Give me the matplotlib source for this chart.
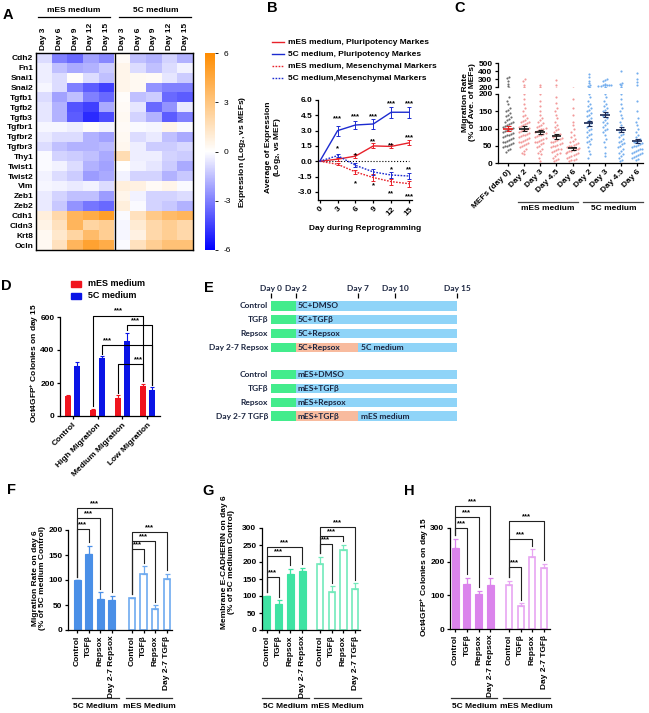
import numpy as np
import matplotlib
matplotlib.use("Agg")
import matplotlib.pyplot as plt
from matplotlib.colors import LinearSegmentedColormap
from matplotlib.lines import Line2D
from matplotlib.patches import Rectangle
import matplotlib.transforms as mtransforms

plt.rcParams["font.family"] = ["Liberation Sans", "DejaVu Sans"]
plt.rcParams["font.weight"] = "bold"
plt.rcParams["axes.labelweight"] = "bold"
plt.rcParams["font.size"] = 6
plt.rcParams["axes.linewidth"] = 0.9
plt.rcParams["axes.unicode_minus"] = False
plt.rcParams["xtick.major.width"] = 0.9
plt.rcParams["ytick.major.width"] = 0.9
plt.rcParams["xtick.major.size"] = 2.5
plt.rcParams["ytick.major.size"] = 2.5
plt.rcParams["xtick.major.pad"] = 1.5
plt.rcParams["ytick.major.pad"] = 1.5
plt.rcParams["mathtext.fontset"] = "custom"
plt.rcParams["mathtext.rm"] = "Liberation Sans:bold"
plt.rcParams["mathtext.bf"] = "Liberation Sans:bold"
plt.rcParams["mathtext.it"] = "Liberation Sans:bold"
plt.rcParams["mathtext.default"] = "bf"

# ======================= DATA =======================
# --- A: heatmap ---
genes = ["Cdh2", "Fn1", "Snai1", "Snai2", "Tgfb1", "Tgfb2", "Tgfb3", "Tgfbr1", "Tgfbr2", "Tgfbr3",
         "Thy1", "Twist1", "Twist2", "Vim", "Zeb1", "Zeb2", "Cdh1", "Cldn3", "Krt8", "Ocln"]
heat_days = ["Day 3", "Day 6", "Day 9", "Day 12", "Day 15"]
heat_mES = [
    [-0.8, -3.0, -3.5, -2.2, -2.8],
    [-0.4, -1.5, -2.0, -1.8, -1.2],
    [-0.4, -0.8, 0.1, -0.8, -1.5],
    [-0.2, -0.8, -3.0, -3.8, -4.5],
    [-0.8, -2.2, -1.5, -3.0, -3.5],
    [-0.6, -1.8, -4.0, -4.5, -2.0],
    [-0.6, -1.8, -3.8, -5.0, -4.2],
    [-0.2, -0.2, -0.4, 0.1, -0.3],
    [-0.5, -0.8, -0.8, -1.8, -2.2],
    [-0.8, -1.5, -1.8, -1.8, -1.6],
    [-0.1, -1.0, -1.2, -1.5, -2.0],
    [-0.1, -0.3, -0.8, -1.8, -2.2],
    [-0.3, -0.8, -1.2, -2.3, -2.0],
    [-0.2, -0.3, -0.5, -0.3, -0.8],
    [-0.5, -1.0, -1.5, -1.5, -2.3],
    [-0.5, -1.3, -2.5, -3.2, -3.5],
    [0.8, 2.0, 3.8, 4.3, 5.0],
    [0.6, 1.5, 3.8, 2.2, 2.5],
    [0.3, 1.2, 2.2, 3.5, 2.5],
    [0.3, 1.5, 3.8, 4.8, 4.3],
]
heat_5C = [
    [0.2, -1.5, -1.8, -1.0, -1.8],
    [0.5, -0.8, -1.5, -0.8, -0.3],
    [0.5, 0.3, 0.2, -0.6, -1.2],
    [0.5, 0.3, -2.5, -3.0, -3.0],
    [0.1, -1.5, -1.2, -3.5, -3.8],
    [0.2, -0.6, -3.5, -2.5, -0.5],
    [0.3, -1.0, -1.8, -3.8, -3.0],
    [0.2, -0.1, -0.2, 0.5, -0.1],
    [0.3, -0.8, -0.5, -1.5, -2.0],
    [0.4, -0.4, -1.2, -1.2, -0.9],
    [1.8, -0.4, -0.4, -1.0, -1.2],
    [0.0, -0.3, -0.6, -1.2, -2.0],
    [-0.3, -1.0, -1.0, -1.8, -1.3],
    [0.8, 0.7, 0.2, 0.5, -0.1],
    [0.5, -0.3, -1.0, -1.0, -0.8],
    [0.8, -0.1, -1.0, -1.3, -1.8],
    [-0.1, 1.5, 2.8, 3.5, 3.8],
    [-0.2, 1.0, 2.0, 2.5, 2.0],
    [-0.2, 0.7, 2.0, 2.5, 2.0],
    [-0.1, 1.5, 2.5, 3.2, 3.2],
]
cbar_ticks = [-6, -3, 0, 3, 6]

# --- B: time course ---
days_B = [0, 3, 6, 9, 12, 15]
mes_pluri = [0, 0.2, 0.5, 1.5, 1.45, 1.8]
mes_pluri_err = [0, 0.15, 0.2, 0.25, 0.2, 0.25]
c5_pluri = [0, 3.0, 3.55, 3.65, 4.8, 4.8]
c5_pluri_err = [0, 0.5, 0.35, 0.45, 0.55, 0.55]
mes_mesen = [0, -0.3, -1.05, -1.6, -2.0, -2.2]
mes_mesen_err = [0, 0.1, 0.2, 0.3, 0.3, 0.3]
c5_mesen = [0, 0.55, -0.4, -1.05, -1.35, -1.45]
c5_mesen_err = [0, 0.15, 0.2, 0.3, 0.3, 0.25]
legend_B = ["mES medium, Pluripotency Markes", "5C medium, Pluripotency Markes",
            "mES medium, Mesenchymal Markers", "5C medium,Mesenchymal Markers"]
starsB_x = [3, 6, 9, 12, 15, 3, 6, 9, 12, 15, 12, 15, 6, 9, 12, 15]
starsB_y = [4.3, 4.5, 4.5, 5.8, 5.75, 1.4, 0.7, 2.1, 1.7, 2.45, -0.65, -0.7, -2.1, -2.3, -3.0, -3.3]
starsB_t = ["***", "***", "***", "***", "***", "*", "*", "**", "**", "***", "*", "**", "*", "*", "**", "***"]

# --- C: migration swarm ---
catsC = ["MEFs (day 0)", "Day 2", "Day 3", "Day 4.5", "Day 6", "Day 2", "Day 3", "Day 4.5", "Day 6"]
valsC = [
    [32, 38, 42, 45, 48, 50, 52, 55, 58, 60, 62, 65, 68, 70, 72, 75, 78, 80, 82, 85, 88, 90, 92, 95, 98, 100,
     102, 105, 108, 110, 112, 115, 118, 120, 125, 128, 132, 135, 140, 145, 150, 155, 160, 170, 180, 190,
     210, 240, 280, 310, 330],
    [25, 30, 35, 40, 45, 48, 52, 55, 58, 60, 62, 65, 68, 70, 72, 75, 78, 80, 82, 85, 88, 90, 92, 95, 98, 100,
     102, 105, 108, 110, 112, 115, 118, 120, 122, 125, 130, 135, 140, 150, 160, 170, 185, 200, 230, 270, 300],
    [5, 15, 25, 30, 35, 40, 45, 50, 55, 58, 60, 62, 65, 68, 70, 72, 75, 78, 80, 82, 85, 88, 90, 92, 95, 98,
     100, 102, 105, 108, 110, 115, 120, 125, 130, 140, 150, 165, 180, 200, 230],
    [5, 8, 12, 15, 20, 25, 28, 32, 35, 38, 40, 42, 45, 48, 50, 52, 55, 58, 60, 62, 65, 68, 70, 72, 75, 78,
     80, 85, 90, 95, 100, 105, 110, 120, 130, 140, 150, 160, 175, 190, 220, 290],
    [5, 8, 10, 12, 15, 18, 20, 22, 25, 28, 30, 32, 34, 36, 38, 40, 42, 44, 46, 48, 50, 52, 55, 58, 60, 65,
     70, 75, 80, 90, 100, 110, 120, 140, 160, 185],
    [15, 25, 35, 45, 55, 60, 65, 70, 75, 80, 85, 90, 95, 100, 105, 110, 115, 120, 125, 130, 135, 140, 145,
     150, 155, 160, 165, 170, 180, 190, 200, 210, 230, 250, 280, 320, 360],
    [20, 30, 45, 60, 70, 80, 90, 95, 100, 105, 110, 115, 120, 125, 130, 135, 140, 145, 150, 155, 160, 165,
     170, 180, 190, 200, 215, 218, 220, 222, 225, 228, 230, 235, 280, 290, 300],
    [5, 10, 15, 20, 25, 30, 35, 40, 45, 50, 55, 58, 60, 65, 70, 75, 80, 85, 90, 95, 100, 110, 120, 130, 140,
     150, 160, 170, 185, 200, 220, 240, 250, 400],
    [10, 12, 15, 18, 20, 22, 25, 28, 30, 32, 35, 38, 40, 42, 45, 48, 50, 52, 55, 58, 60, 62, 65, 70, 75, 80,
     90, 100, 110, 120, 130, 150, 180, 220, 260, 300, 370],
]
meansC = [100, 100, 90, 77, 43, 115, 140, 97, 65]
semC = [8, 6, 5, 6, 4, 8, 8, 8, 6]

# --- D: bars ---
catsD = ["Control", "High Migration", "Medium Migration", "Low Migration"]
D_mes = [120, 35, 110, 180]
D_mes_err = [10, 8, 15, 15]
D_5c = [305, 350, 455, 155]
D_5c_err = [20, 12, 50, 20]
# (left group, left series, right group, right series, height, text x)
D_brackets = [(1, 0, 3, 0, 609, 1.82), (2, 1, 3, 1, 549, 2.5), (1, 1, 3, 1, 430, 1.38), (2, 0, 3, 0, 316, 2.62)]

# --- E: schematic ---
E_days = [0, 2, 7, 10, 15]
E_daylabels = ["Day 0", "Day 2", "Day 7", "Day 10", "Day 15"]
E_rows_5C = ["Control", "TGFβ", "Repsox", "Day 2-7 Repsox"]
E_text_5C = ["5C+DMSO", "5C+TGFβ", "5C+Repsox", "5C+Repsox"]
E_rows_mES = ["Control", "TGFβ", "Repsox", "Day 2-7 TGFβ"]
E_text_mES = ["mES+DMSO", "mES+TGFβ", "mES+Repsox", "mES+TGFβ"]
E_pulse = [False, False, False, True]
E_after = ["5C medium", "mES medium"]

# --- F, G, H ---
labels_5C = ["Control", "TGFβ", "Repsox", "Day 2-7 Repsox"]
labels_mES = ["Control", "TGFβ", "Repsox", "Day 2-7 TGFβ"]
F_5c, F_5c_err = [100, 152, 63, 61], [0, 17, 13, 8]
F_mes, F_mes_err = [65, 112, 42, 102], [0, 16, 8, 11]
F_br5, F_brm = [(1, 202), (2, 224), (3, 244)], [(1, 162), (2, 178), (3, 196)]
G_5c, G_5c_err = [100, 77, 165, 173], [0, 11, 15, 10]
G_mes, G_mes_err = [195, 113, 235, 122], [20, 15, 16, 15]
G_br5, G_brm = [(1, 156), (2, 218), (3, 244)], [(1, 253), (2, 277), (3, 303)]
H_5c, H_5c_err = [240, 135, 103, 130], [28, 17, 10, 22]
H_mes, H_mes_err = [130, 68, 213, 181], [14, 8, 24, 12]
H_br5, H_brm = [(1, 300), (2, 333), (3, 366)], [(1, 184), (2, 267), (3, 321)]

# ======================= FIGURE =======================
W, H = 649, 713
fig = plt.figure(figsize=(W / 100, H / 100), dpi=100)
fig.patch.set_facecolor("white")
px = mtransforms.Affine2D().scale(1.0 / W, -1.0 / H).translate(0, 1) + fig.transFigure


def rect(l, t, r, b):
    return [l / W, 1 - b / H, (r - l) / W, (b - t) / H]


def ptext(x, y, s, **kw):
    kw.setdefault("ha", "center")
    kw.setdefault("va", "center")
    fig.text(x, y, s, transform=px, **kw)


def pline(xs, ys, **kw):
    kw.setdefault("color", "black")
    kw.setdefault("lw", 0.9)
    fig.add_artist(Line2D(xs, ys, transform=px, **kw))


def style_axes(ax):
    ax.spines["top"].set_visible(False)
    ax.spines["right"].set_visible(False)


# panel letters
for let, x, y in [("A", 8, 15), ("B", 272, 8), ("C", 460, 8), ("D", 6, 286),
                  ("E", 209, 288), ("F", 11, 490), ("G", 208, 491), ("H", 409, 491)]:
    ptext(x, y, let, fontsize=10.5, fontweight="bold")

# ---------------- A ----------------
cmap = LinearSegmentedColormap.from_list("bo", [(0, 0, 1), (1, 1, 1), (1, 0.55, 0)])
axA = fig.add_axes(rect(36, 53, 193, 250))
heat = np.hstack([np.array(heat_mES), np.array(heat_5C)])
im = axA.imshow(heat, cmap=cmap, vmin=-6, vmax=6, aspect="auto", interpolation="nearest")
axA.set_yticks(range(len(genes)))
axA.set_yticklabels(genes)
axA.set_xticks(range(heat.shape[1]))
axA.set_xticklabels(heat_days + heat_days, rotation=90)
axA.xaxis.set_ticks_position("top")
axA.tick_params(length=0, pad=2)
axA.axvline(len(heat_days) - 0.5, color="black", lw=1.0)
for s in axA.spines.values():
    s.set_linewidth(1.0)
bt = mtransforms.blended_transform_factory(axA.transData, px)
for x0, x1, lab in [(-0.4, 4.2, "mES medium"), (4.8, 9.4, "5C medium")]:
    fig.add_artist(Line2D([x0, x1], [17, 17], transform=bt, color="black", lw=0.9))
    fig.text((x0 + x1) / 2, 11, lab, transform=bt, ha="center", va="center")

cax = fig.add_axes(rect(205, 53, 215, 250))
cb = fig.colorbar(im, cax=cax, ticks=cbar_ticks)
cb.outline.set_visible(False)
cax.tick_params(length=2, width=0.6, labelsize=6, pad=4)
for t in cax.get_yticklabels():
    t.set_fontweight("normal")
ptext(242, 152, "Expression (Log$_2$, vs MEFs)", rotation=90)

# ---------------- B ----------------
red, blue = "#e8212a", "#1c2bd0"
axB = fig.add_axes(rect(318, 100, 412, 200))
style_axes(axB)
axB.hlines(0, days_B[0], days_B[-1], colors="black", linestyles=":", lw=0.8)
seriesB = [(mes_pluri, mes_pluri_err, red, "-"), (c5_pluri, c5_pluri_err, blue, "-"),
           (mes_mesen, mes_mesen_err, red, (0, (1.2, 1.0))), (c5_mesen, c5_mesen_err, blue, (0, (1.2, 1.0)))]
for yv, ev, c, ls in seriesB:
    axB.errorbar(days_B, yv, yerr=ev, color=c, ls=ls, lw=1.0, capsize=1.5, elinewidth=0.7, capthick=0.7)
for x, y, t in zip(starsB_x, starsB_y, starsB_t):
    axB.text(x, y - 0.15, t, ha="center", va="center", fontsize=5.5)
axB.set_xlim(-0.3, 15.5)
axB.set_ylim(-3.8, 6.0)
axB.set_xticks(days_B)
axB.set_xticklabels([str(d) for d in days_B], rotation=45, ha="right", rotation_mode="anchor")
axB.set_yticks([-3, -1.5, 0, 1.5, 3, 4.5, 6])
axB.set_yticklabels(["%.1f" % v for v in [-3, -1.5, 0, 1.5, 3, 4.5, 6]])
ptext(274, 147, "Average of Expression\n(Log$_2$, vs MEF)", rotation=90, linespacing=1.1)
ptext(365, 228, "Day during Reprogramming")
leg_y = [42, 54, 66, 78]
for (yv, ev, c, ls), lab, ly in zip(seriesB, legend_B, leg_y):
    pline([272, 284], [ly, ly], color=c, ls=ls, lw=1.0)
    ptext(288, ly, lab, ha="left")

# ---------------- C ----------------
def swarm(vals, split=200.0, bw_lo=15.0, bw_hi=35.0, step=0.13, maxw=0.42):
    v = np.asarray(vals, float)
    key = np.where(v <= split, np.floor(v / bw_lo), 1000 + np.floor((v - split) / bw_hi))
    off = np.zeros_like(v)
    for k in np.unique(key):
        idx = np.where(key == k)[0]
        n = len(idx)
        off[idx] = (np.arange(n) - (n - 1) / 2.0) * step
    return np.clip(off, -maxw, maxw)


ptcol = ["#6d6d6d"] + ["#f29a9a"] * 4 + ["#74aeee"] * 4
mcol = ["#e02424"] + ["#1a1a1a"] * 4 + ["#1d2b55"] * 4
axCl = fig.add_axes(rect(498, 94, 643, 163))
axCu = fig.add_axes(rect(498, 63, 643, 87))
for ax in (axCl, axCu):
    style_axes(ax)
    ax.set_xlim(-0.62, 8.37)
axCu.spines["bottom"].set_visible(False)
axCu.set_xticks([])
for i, vals in enumerate(valsC):
    off = swarm(vals)
    for ax in (axCl, axCu):
        ax.scatter(i + off, vals, s=2.4, c=ptcol[i], lw=0, zorder=2)
    axCl.hlines(meansC[i], i - 0.3, i + 0.3, colors=mcol[i], lw=1.2, zorder=3)
    axCl.errorbar(i, meansC[i], yerr=semC[i], fmt="none", ecolor=mcol[i], capsize=1.8,
                  elinewidth=0.8, capthick=0.8, zorder=3)
axCl.set_ylim(0, 200)
axCl.set_yticks([0, 50, 100, 150, 200])
axCu.set_ylim(200, 500)
axCu.set_yticks([200, 300, 400, 500])
axCl.set_xticks(range(len(catsC)))
axCl.set_xticklabels(catsC, rotation=45, ha="right", rotation_mode="anchor")
ptext(469, 102, "Migration Rate\n(% of Ave. of MEFs)", rotation=90, linespacing=1.1)
btC = mtransforms.blended_transform_factory(axCl.transData, px)
for x0, x1, lab in [(0.62, 4.35, "mES medium"), (4.66, 8.4, "5C medium")]:
    fig.add_artist(Line2D([x0, x1], [202, 202], transform=btC, color="#444444", lw=0.9))
    fig.text((x0 + x1) / 2, 209, lab, transform=btC, ha="center", va="center")

# ---------------- D ----------------
axD = fig.add_axes(rect(60, 317, 160, 416))
style_axes(axD)
gx = np.arange(len(catsD))
offD = 0.19
wD = 0.24
red_d, blue_d = "#f0141e", "#0a14e6"
axD.bar(gx - offD, D_mes, width=wD, color=red_d)
axD.bar(gx + offD, D_5c, width=wD, color=blue_d)
axD.errorbar(gx - offD, D_mes, yerr=[np.zeros(4), D_mes_err], fmt="none", ecolor=red_d, capsize=1.5,
             elinewidth=0.8, capthick=0.8)
axD.errorbar(gx + offD, D_5c, yerr=[np.zeros(4), D_5c_err], fmt="none", ecolor=blue_d, capsize=1.5,
             elinewidth=0.8, capthick=0.8)
sD = [np.array(D_mes) + np.array(D_mes_err), np.array(D_5c) + np.array(D_5c_err)]
for g0, s0, g1, s1, yb, tx in D_brackets:
    x0 = g0 + (offD if s0 else -offD)
    x1 = g1 + (offD if s1 else -offD)
    y0 = min(sD[s0][g0] + 15, yb)
    y1 = min(sD[s1][g1] + 15, yb)
    axD.plot([x0, x0, x1, x1], [y0, yb, yb, y1], color="black", lw=0.8, clip_on=False)
    axD.text(tx, yb + 6, "***", ha="center", va="bottom", fontsize=5.5)
axD.set_xlim(-0.5, 3.5)
axD.set_ylim(0, 600)
axD.set_yticks([0, 200, 400, 600])
axD.set_xticks(gx)
axD.set_xticklabels(catsD, rotation=45, ha="right", rotation_mode="anchor")
ptext(35, 363, "Oct4GFP$^{+}$ Colonies on day 15", rotation=90)
fig.add_artist(Rectangle((71, 281), 10, 6, transform=px, color=red_d))
fig.add_artist(Rectangle((71, 293), 10, 6, transform=px, color=blue_d))
ptext(88, 284, "mES medium", ha="left", fontsize=6.5)
ptext(88, 296, "5C medium", ha="left", fontsize=6.5)

# ---------------- E ----------------
green, skyblue, salmon = "#43ec8c", "#8fd4f8", "#f8bb9e"
ecol = "#1b2540"
efam = ["Lato", "DejaVu Sans"]
axE = fig.add_axes(rect(271, 298, 457, 421))
for s in axE.spines.values():
    s.set_visible(False)
rowsE = [0, 1, 2, 3, 5, 6, 7, 8]
rowlabels = E_rows_5C + E_rows_mES
rowtexts = E_text_5C + E_text_mES
pulses = E_pulse + E_pulse
afters = [E_after[0]] * 4 + [E_after[1]] * 4
hE = 0.68
for r, lab, txt, pul, aft in zip(rowsE, rowlabels, rowtexts, pulses, afters):
    axE.barh(r, E_days[1] - E_days[0], left=E_days[0], height=hE, color=green)
    if pul:
        axE.barh(r, E_days[2] - E_days[1], left=E_days[1], height=hE, color=salmon)
        axE.barh(r, E_days[-1] - E_days[2], left=E_days[2], height=hE, color=skyblue)
        axE.text(E_days[2] + 0.25, r, aft, ha="left", va="center", fontsize=6, color=ecol, family=efam,
                 fontweight="bold")
    else:
        axE.barh(r, E_days[-1] - E_days[1], left=E_days[1], height=hE, color=skyblue)
    axE.text(E_days[1] + 0.15, r, txt, ha="left", va="center", fontsize=6, color=ecol, family=efam,
             fontweight="bold")
    axE.text(-0.25, r, lab, ha="right", va="center", fontsize=6, color=ecol, family=efam, fontweight="bold")
axE.set_xlim(0, 15)
axE.set_ylim(8.36, -0.58)
axE.set_yticks([])
axE.xaxis.set_ticks_position("top")
axE.set_xticks(E_days)
axE.set_xticklabels(E_daylabels, family=efam, fontsize=6, color=ecol)
axE.tick_params(axis="x", length=3.5, width=0.9, pad=1)


# ---------------- F, G, H ----------------
def bar_panel(rpx, v5, e5, vm, em, fill, edge, ylim, yticks, br5, brm, mes_start, xlim):
    ax = fig.add_axes(rect(*rpx))
    style_axes(ax)
    x5 = np.arange(4, dtype=float)
    xm = mes_start + np.arange(4, dtype=float)
    w = 0.6
    ax.bar(x5, v5, width=w, color=fill, edgecolor=fill, lw=0.8)
    ax.errorbar(x5, v5, yerr=[np.zeros(4), e5], fmt="none", ecolor=fill, capsize=1.8,
                elinewidth=0.9, capthick=0.9)
    ax.bar(xm, vm, width=w - 0.08, facecolor="white", edgecolor=edge, lw=1.2)
    ax.errorbar(xm, vm, yerr=[np.zeros(4), em], fmt="none", ecolor=edge, capsize=1.8,
                elinewidth=0.9, capthick=0.9)
    gap = 0.035 * (ylim[1] - ylim[0])
    for xs, vs, es, brs in [(x5, v5, e5, br5), (xm, vm, em, brm)]:
        tops = np.array(vs) + np.array(es)
        for j, yb in brs:
            y0 = min(tops[0] + gap, yb)
            y1 = min(tops[j] + gap, yb)
            ax.plot([xs[0], xs[0], xs[j], xs[j]], [y0, yb, yb, y1], color="#222222", lw=0.8, clip_on=False)
            ax.text((xs[0] + xs[j]) / 2, yb + 0.01 * (ylim[1] - ylim[0]), "***", ha="center", va="bottom",
                    fontsize=5.5)
    ax.set_xlim(*xlim)
    ax.set_ylim(*ylim)
    ax.set_yticks(yticks)
    ax.set_xticks(np.concatenate([x5, xm]))
    ax.set_xticklabels(labels_5C + labels_mES, rotation=90)
    bt2 = mtransforms.blended_transform_factory(ax.transData, px)
    for x0, x1, lab in [(x5[0] - 0.4, x5[-1] + 0.6, "5C Medium"), (xm[0] - 0.5, xm[-1] + 0.5, "mES Medium")]:
        fig.add_artist(Line2D([x0, x1], [698, 698], transform=bt2, color="#333333", lw=0.9))
        fig.text((x0 + x1) / 2, 707, lab, transform=bt2, ha="center", va="center")
    return ax


bar_panel((68, 530, 172, 630), F_5c, F_5c_err, F_mes, F_mes_err, "#4a8fe7", "#6eaaf0",
          (0, 200), [0, 50, 100, 150, 200], F_br5, F_brm, 4.74, (-0.78, 8.2))
ptext(39, 578, "Migration Rate on day 6\n(% of 5C medium Control)", rotation=90, linespacing=1.0)

bar_panel((262, 528, 360, 630), G_5c, G_5c_err, G_mes, G_mes_err, "#3fe3a3", "#72eabb",
          (0, 300), [0, 50, 100, 150, 200, 250, 300], G_br5, G_brm, 4.5, (-0.4, 7.9))
ptext(228, 562, "Membrane E-CADHERIN on day 6\n(% of 5C medium Control)", rotation=90, linespacing=1.0)

bar_panel((450, 528, 550, 629), H_5c, H_5c_err, H_mes, H_mes_err, "#db84ec", "#e8a6f2",
          (0, 300), [0, 100, 200, 300], H_br5, H_brm, 4.6, (-0.45, 8.1))
ptext(425, 577, "Oct4GFP$^{+}$ Colonies on day 15", rotation=90)

fig.savefig("out.png", dpi=100, facecolor="white")
